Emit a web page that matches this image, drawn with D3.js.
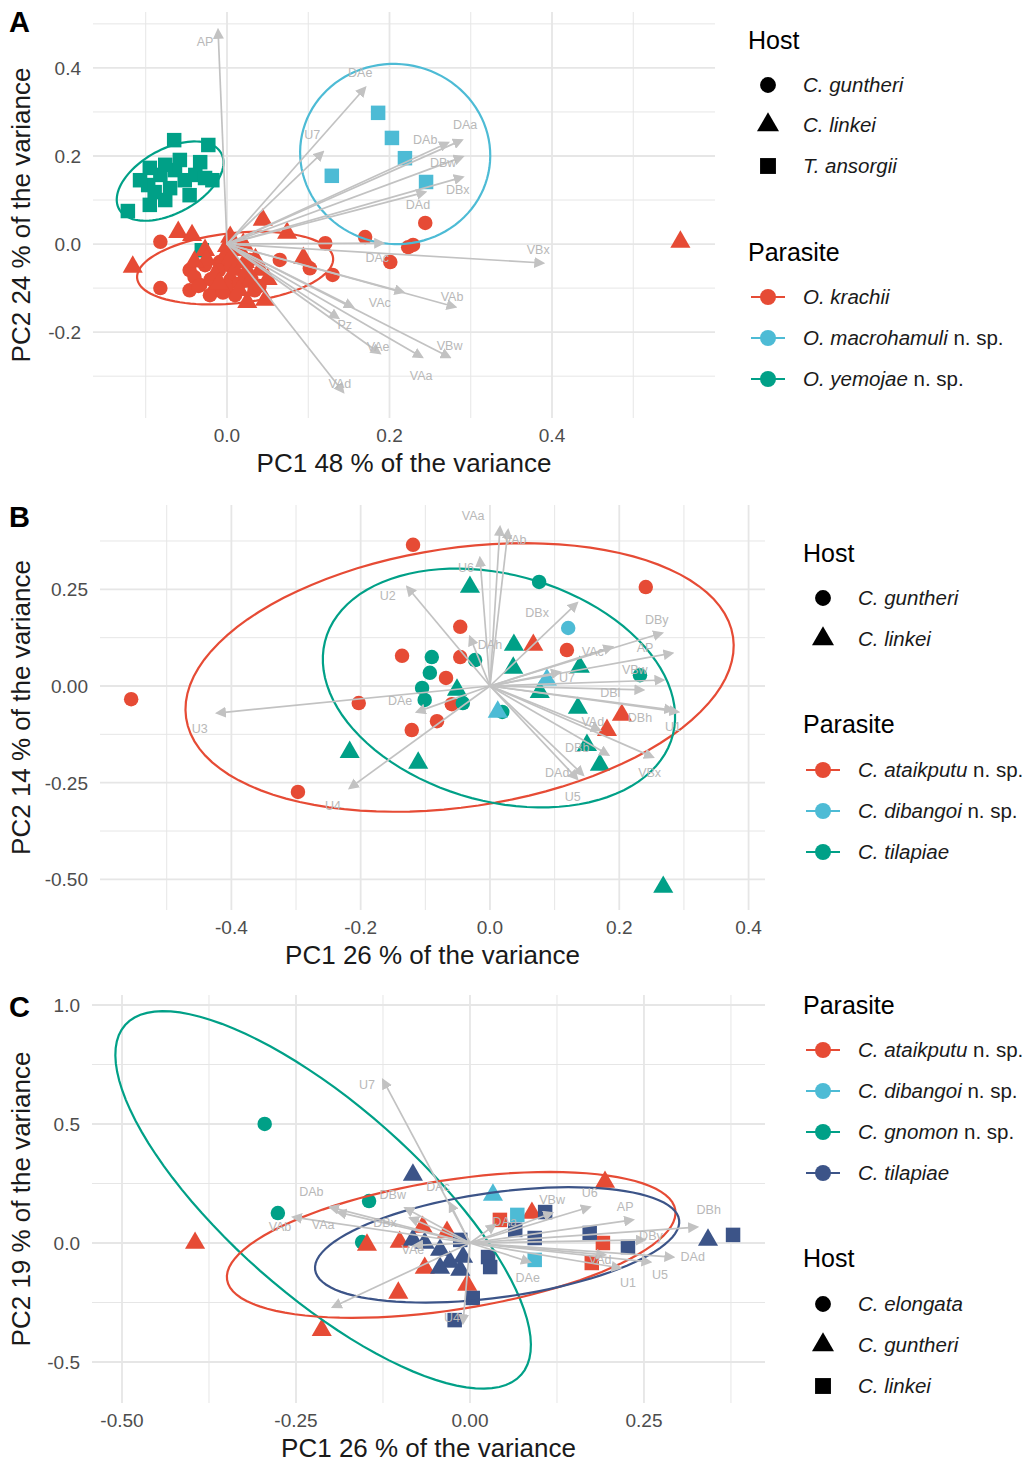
<!DOCTYPE html>
<html><head><meta charset="utf-8">
<script src="https://cdn.jsdelivr.net/npm/d3@7"></script>
<style>body{margin:0;background:#fff;} svg{display:block;font-family:"Liberation Sans",Arial,Helvetica,sans-serif;}</style>
</head><body><svg id="c" width="1026" height="1463"></svg>
<script>
const RED="#E64B35", LBLUE="#4DBBD5", TEAL="#00A087", DBLUE="#3C5488";

// ---------- Panel A ----------
const parasitesA = ["O. krachii","O. macrohamuli n. sp.","O. yemojae n. sp."];
const colorsA = [RED, LBLUE, TEAL];
const hostsA = ["C. guntheri","C. linkei","T. ansorgii"];
const shapesA = ["circle","triangle","square"];
const xTicksA = [0, 0.2, 0.4], xTickLabelsA = ["0.0","0.2","0.4"];
const yTicksA = [-0.2, 0, 0.2, 0.4], yTickLabelsA = ["-0.2","0.0","0.2","0.4"];
// [parasite, host, PC1, PC2]
const pointsA = [
 [2,2,-0.065,0.236],[2,2,-0.023,0.225],[2,2,-0.122,0.075],[2,2,-0.095,0.089],[2,2,-0.076,0.100],
 [2,2,-0.082,0.157],[2,2,-0.064,0.168],[2,2,-0.052,0.145],[2,2,-0.039,0.157],[2,2,-0.027,0.150],
 [2,2,-0.018,0.145],[2,2,-0.097,0.134],[2,2,-0.089,0.118],[2,2,-0.070,0.127],[2,2,-0.046,0.111],
 [2,2,-0.058,0.191],[2,2,-0.095,0.173],[2,2,-0.033,0.186],[2,2,-0.076,0.180],[2,2,-0.107,0.145],
 [2,2,-0.031,-0.014],
 [1,2,0.186,0.298],[1,2,0.203,0.241],[1,2,0.219,0.195],[1,2,0.129,0.155],[1,2,0.245,0.141],
 [0,0,-0.082,0.005],[0,0,-0.082,-0.100],[0,0,0.121,0.002],[0,0,0.170,0.016],[0,0,0.201,-0.041],
 [0,0,0.223,-0.007],[0,0,0.229,-0.002],[0,0,0.244,0.048],[0,0,0.065,-0.036],[0,0,0.102,-0.055],
 [0,0,0.130,-0.070],[0,0,-0.046,-0.059],[0,0,-0.033,-0.093],[0,0,-0.015,-0.105],[0,0,0.004,-0.082],
 [0,0,0.022,-0.070],[0,0,0.034,-0.105],[0,0,-0.027,-0.048],[0,0,-0.009,-0.041],[0,0,0.010,-0.116],
 [0,0,0.028,-0.036],[0,0,-0.046,-0.105],[0,0,-0.021,-0.116],
 [0,0,-0.040,-0.075],[0,0,-0.020,-0.080],[0,0,0.000,-0.095],[0,0,0.015,-0.090],[0,0,-0.010,-0.060],
 [0,0,0.030,-0.080],[0,0,-0.035,-0.095],[0,0,0.005,-0.050],[0,0,0.040,-0.095],[0,0,-0.005,-0.110],
 [0,1,-0.116,-0.052],[0,1,-0.060,0.027],[0,1,-0.043,0.020],[0,1,0.044,0.055],[0,1,0.074,0.025],
 [0,1,0.094,-0.032],[0,1,0.025,-0.132],[0,1,0.047,-0.127],[0,1,0.004,0.016],[0,1,-0.002,-0.025],
 [0,1,0.016,-0.014],[0,1,-0.015,-0.070],[0,1,0.028,-0.086],[0,1,0.558,0.005],[0,1,0.010,-0.059],
 [0,1,0.041,-0.059],[0,1,-0.027,-0.014],[0,1,0.022,-0.041],
 [0,1,-0.025,-0.035],[0,1,0.005,-0.030],[0,1,0.025,-0.060],[0,1,-0.010,-0.090],[0,1,0.035,-0.035],
 [0,1,0.015,-0.105],[0,1,-0.040,-0.040],[0,1,0.050,-0.080],[0,1,0.000,-0.005],[0,1,0.020,0.000]
];
// [parasite, centre x, centre y, axis1 x, axis1 y, axis2 x, axis2 y]
const ellipsesA = [
 [2,-0.070,0.143,0.064,0.059,-0.0148,0.068],
 [1,0.207,0.2045,0.111,-0.068,-0.037,-0.193],
 [0,0.010,-0.0545,0.1206,0.0227,0.0037,-0.0795]
];
// [variable, tip x, tip y, label x, label y]
const arrowsA = [
 ["AP",-0.011,0.486,-0.027,0.459],["DAe",0.170,0.355,0.164,0.389],["U7",0.118,0.209,0.105,0.248],
 ["DAa",0.289,0.236,0.293,0.270],["DAb",0.272,0.230,0.244,0.236],["DBw",0.290,0.198,0.266,0.184],
 ["DBx",0.290,0.152,0.284,0.123],["DAd",0.244,0.118,0.235,0.089],["DAc",0.192,0.002,0.185,-0.032],
 ["VBx",0.389,-0.043,0.383,-0.014],["VAb",0.281,-0.143,0.277,-0.120],["VAc",0.155,-0.143,0.188,-0.134],
 ["Pz",0.137,-0.168,0.145,-0.184],["VAe",0.188,-0.248,0.186,-0.234],["VBw",0.274,-0.257,0.274,-0.232],
 ["VAa",0.240,-0.257,0.239,-0.300],["VAd",0.143,-0.336,0.139,-0.318],["",0.217,-0.109,0.217,-0.109]
];

// ---------- Panel B ----------
const parasitesB = ["C. ataikputu n. sp.","C. dibangoi n. sp.","C. tilapiae"];
const colorsB = [RED, LBLUE, TEAL];
const hostsB = ["C. guntheri","C. linkei"];
const shapesB = ["circle","triangle"];
const xTicksB = [-0.4,-0.2,0,0.2,0.4], xTickLabelsB = ["-0.4","-0.2","0.0","0.2","0.4"];
const yTicksB = [-0.5,-0.25,0,0.25], yTickLabelsB = ["-0.50","-0.25","0.00","0.25"];
const pointsB = [
 [0,0,-0.119,0.365],[0,0,-0.136,0.078],[0,0,-0.046,0.153],[0,0,-0.046,0.075],[0,0,-0.068,0.021],
 [0,0,-0.203,-0.044],[0,0,-0.082,-0.091],[0,0,-0.121,-0.114],[0,0,-0.297,-0.274],[0,0,-0.059,-0.047],
 [0,0,0.241,0.256],[0,0,0.119,0.093],[0,0,-0.555,-0.034],
 [0,1,0.067,0.106],[0,1,0.204,-0.075],[0,1,0.181,-0.114],
 [2,0,-0.090,0.075],[2,0,-0.093,0.034],[2,0,-0.105,-0.005],[2,0,-0.101,-0.036],[2,0,-0.042,-0.044],
 [2,0,0.076,0.269],[2,0,-0.023,0.067],[2,0,0.232,0.028],[2,0,0.019,-0.067],
 [2,1,-0.031,0.256],[2,1,-0.217,-0.171],[2,1,-0.111,-0.199],[2,1,-0.051,-0.010],[2,1,0.037,0.106],
 [2,1,0.139,0.049],[2,1,0.036,0.047],[2,1,0.077,-0.016],[2,1,0.136,-0.057],[2,1,0.150,-0.153],
 [2,1,0.170,-0.204],[2,1,0.268,-0.520],
 [1,0,0.121,0.150],[1,1,0.088,0.016],[1,1,0.012,-0.067]
];
const ellipsesB = [
 [0,-0.047,0.022,0.423,0.105,-0.029,0.331],
 [2,0.0139,-0.0052,0.269,-0.0259,-0.0433,0.3077]
];
const arrowsB = [
 ["VAa",0.0155,0.411,-0.026,0.440],["VAb",0.028,0.403,0.039,0.378],["U6",-0.0155,0.331,-0.037,0.305],
 ["U2",-0.128,0.256,-0.158,0.233],["DBx",0.1346,0.2146,0.073,0.189],["DBy",0.266,0.137,0.258,0.171],
 ["AP",0.282,0.085,0.240,0.098],["VBw",0.268,0.0155,0.224,0.041],["DBl",0.237,-0.010,0.186,-0.018],
 ["DBh",0.283,-0.062,0.232,-0.083],["VAd",0.170,-0.114,0.159,-0.093],["DBb",0.183,-0.178,0.135,-0.160],
 ["VBx",0.252,-0.184,0.247,-0.225],["DAd",0.144,-0.230,0.104,-0.225],["U5",0.135,-0.240,0.128,-0.287],
 ["DAe",-0.113,-0.067,-0.139,-0.039],["U3",-0.422,-0.070,-0.449,-0.111],["U4",-0.217,-0.264,-0.243,-0.310],
 ["VAc",0.189,0.101,0.159,0.088],["U7",0.108,0.036,0.119,0.021],["U1",0.291,-0.067,0.283,-0.106],
 ["DAh",-0.031,0.127,0.000,0.105]
];

// ---------- Panel C ----------
const parasitesC = ["C. ataikputu n. sp.","C. dibangoi n. sp.","C. gnomon n. sp.","C. tilapiae"];
const colorsC = [RED, LBLUE, TEAL, DBLUE];
const hostsC = ["C. elongata","C. guntheri","C. linkei"];
const shapesC = ["circle","triangle","square"];
const xTicksC = [-0.5,-0.25,0,0.25], xTickLabelsC = ["-0.50","-0.25","0.00","0.25"];
const yTicksC = [-0.5,0,0.5,1.0], yTickLabelsC = ["-0.5","0.0","0.5","1.0"];
const pointsC = [
 [2,0,-0.295,0.500],[2,0,-0.276,0.126],[2,0,-0.145,0.176],[2,0,-0.155,0.004],
 [0,1,-0.395,0.000],[0,1,-0.213,-0.366],[0,1,-0.148,-0.008],[0,1,-0.101,0.004],[0,1,-0.068,0.067],
 [0,1,-0.065,-0.105],[0,1,-0.004,-0.176],[0,1,-0.103,-0.210],[0,1,0.194,0.256],[0,1,0.089,0.126],
 [0,1,-0.033,0.046],
 [0,2,0.043,0.097],[0,2,0.191,0.000],[0,2,0.175,-0.084],
 [1,1,0.033,0.202],[1,2,0.068,0.118],[1,2,0.093,-0.071],
 [3,1,-0.082,0.286],[3,1,-0.082,0.013],[3,1,-0.043,-0.029],[3,1,-0.043,-0.105],[3,1,-0.014,-0.113],
 [3,1,-0.010,-0.059],[3,1,0.342,0.013],[3,1,-0.065,0.000],[3,1,-0.029,-0.080],
 [3,2,0.108,0.130],[3,2,0.093,0.021],[3,2,0.026,-0.059],[3,2,0.029,-0.101],[3,2,0.004,-0.231],
 [3,2,-0.022,-0.324],[3,2,0.172,0.042],[3,2,0.227,-0.017],[3,2,0.378,0.034],[3,2,-0.014,0.013],
 [3,2,0.065,0.055]
];
const ellipsesC = [
 [2,-0.211,0.181,0.2845,-0.735,0.0905,0.298],
 [0,-0.027,-0.008,0.322,0.147,-0.0144,0.269],
 [3,0.039,-0.008,0.2615,0.105,-0.010,0.2185]
];
const arrowsC = [
 ["U7",-0.125,0.685,-0.148,0.664],["DAb",-0.201,0.151,-0.228,0.214],["VAb",-0.254,0.109,-0.273,0.067],
 ["VAa",-0.190,0.130,-0.211,0.076],["DBw",-0.093,0.147,-0.111,0.202],["DAc",-0.029,0.168,-0.046,0.235],
 ["DBx",-0.086,0.105,-0.122,0.084],["VAe",-0.080,-0.010,-0.082,-0.029],["",-0.197,-0.269,-0.197,-0.269],
 ["U4",-0.010,-0.336,-0.026,-0.315],["DAd",0.292,-0.059,0.320,-0.059],["U5",0.259,-0.080,0.273,-0.134],
 ["U1",0.216,-0.105,0.227,-0.168],["DBh",0.326,0.067,0.343,0.139],["AP",0.234,0.097,0.223,0.151],
 ["U6",0.172,0.151,0.172,0.210],["VBw",0.118,0.126,0.118,0.181],["DAe",0.086,-0.080,0.083,-0.147],
 ["VAd",0.194,-0.050,0.187,-0.071],["DAa",0.036,0.076,0.050,0.088],["DBy",0.251,0.013,0.260,0.030]
];

// ---------- layout ----------
const panels = [
 {letter:"A", rect:{l:93,r:715,t:12,b:418}, xdom:[-0.1649,0.6006], ydom:[-0.395,0.527],
  xt:xTicksA, xl:xTickLabelsA, yt:yTicksA, yl:yTickLabelsA, xstep:0.2, ystep:0.2,
  xtitle:"PC1 48 % of the variance", ytitle:"PC2 24 % of the variance",
  pts:pointsA, ell:ellipsesA, arr:arrowsA, cols:colorsA, shapes:shapesA,
  legend:{x:748, groups:[{title:"Host", ty:40, items:hostsA, ys:[85,125,166], kind:"shape", shapes:shapesA},
                        {title:"Parasite", ty:252, items:parasitesA, ys:[297,338,379], kind:"col", cols:colorsA}]}},
 {letter:"B", rect:{l:100,r:765,t:505,b:910}, xdom:[-0.6032,0.4254], ydom:[-0.5793,0.4681],
  xt:xTicksB, xl:xTickLabelsB, yt:yTicksB, yl:yTickLabelsB, xstep:0.2, ystep:0.25,
  xtitle:"PC1 26 % of the variance", ytitle:"PC2 14 % of the variance",
  pts:pointsB, ell:ellipsesB, arr:arrowsB, cols:colorsB, shapes:shapesB,
  legend:{x:803, groups:[{title:"Host", ty:553, items:hostsB, ys:[598,639], kind:"shape", shapes:shapesB},
                        {title:"Parasite", ty:724, items:parasitesB, ys:[770,811,852], kind:"col", cols:colorsB}]}},
 {letter:"C", rect:{l:92,r:765,t:995,b:1403}, xdom:[-0.5431,0.4239], ydom:[-0.6723,1.042],
  xt:xTicksC, xl:xTickLabelsC, yt:yTicksC, yl:yTickLabelsC, xstep:0.25, ystep:0.5,
  xtitle:"PC1 26 % of the variance", ytitle:"PC2 19 % of the variance",
  pts:pointsC, ell:ellipsesC, arr:arrowsC, cols:colorsC, shapes:shapesC,
  legend:{x:803, groups:[{title:"Parasite", ty:1005, items:parasitesC, ys:[1050,1091,1132,1173], kind:"col", cols:colorsC},
                        {title:"Host", ty:1258, items:hostsC, ys:[1304,1345,1386], kind:"shape", shapes:shapesC}]}}
];

const svg = d3.select("#c");
svg.append("rect").attr("width",1026).attr("height",1463).attr("fill","#fff");
const defs = svg.append("defs");
defs.append("marker").attr("id","ah").attr("viewBox","0 0 10 10").attr("refX",8).attr("refY",5)
  .attr("markerWidth",11).attr("markerHeight",11).attr("markerUnits","userSpaceOnUse").attr("orient","auto")
  .append("path").attr("d","M0,0L10,5L0,10Z").attr("fill","#c2c2c2");

const symType = {circle:d3.symbolCircle, triangle:d3.symbolTriangle, square:d3.symbolSquare};
const symSize = {circle:165, triangle:175, square:210};
const GRID="#e6e6e6";

function speciesText(sel, label){
  const i = label.indexOf(" n. sp.");
  if(i>=0){
    sel.append("tspan").attr("font-style","italic").text(label.slice(0,i));
    sel.append("tspan").text(label.slice(i));
  } else sel.append("tspan").attr("font-style","italic").text(label);
}

panels.forEach(p=>{
  const R=p.rect;
  const x=d3.scaleLinear().domain(p.xdom).range([R.l,R.r]);
  const y=d3.scaleLinear().domain(p.ydom).range([R.b,R.t]);
  const g=svg.append("g");
  // grid
  const minorX=[], minorY=[];
  for(let v=Math.ceil(p.xdom[0]/p.xstep-0.5)+0.5; v*p.xstep<=p.xdom[1]; v+=1) if(v*p.xstep>=p.xdom[0]) minorX.push(v*p.xstep);
  for(let v=Math.ceil(p.ydom[0]/p.ystep-0.5)+0.5; v*p.ystep<=p.ydom[1]; v+=1) if(v*p.ystep>=p.ydom[0]) minorY.push(v*p.ystep);
  g.selectAll(".mx").data(minorX).join("line").attr("x1",d=>x(d)).attr("x2",d=>x(d)).attr("y1",R.t).attr("y2",R.b).attr("stroke",GRID).attr("stroke-width",1);
  g.selectAll(".my").data(minorY).join("line").attr("y1",d=>y(d)).attr("y2",d=>y(d)).attr("x1",R.l).attr("x2",R.r).attr("stroke",GRID).attr("stroke-width",1);
  g.selectAll(".gx").data(p.xt).join("line").attr("x1",d=>x(d)).attr("x2",d=>x(d)).attr("y1",R.t).attr("y2",R.b).attr("stroke",GRID).attr("stroke-width",1.8);
  g.selectAll(".gy").data(p.yt).join("line").attr("y1",d=>y(d)).attr("y2",d=>y(d)).attr("x1",R.l).attr("x2",R.r).attr("stroke",GRID).attr("stroke-width",1.8);
  // tick labels
  g.selectAll(".xl").data(p.xt).join("text").attr("x",d=>x(d)).attr("y",R.b+24).attr("text-anchor","middle")
    .attr("font-size",19).attr("fill","#4d4d4d").text((d,i)=>p.xl[i]);
  g.selectAll(".yl").data(p.yt).join("text").attr("x",R.l-12).attr("y",d=>y(d)+7).attr("text-anchor","end")
    .attr("font-size",19).attr("fill","#4d4d4d").text((d,i)=>p.yl[i]);
  // titles
  g.append("text").attr("x",(R.l+R.r)/2).attr("y",R.b+54).attr("text-anchor","middle").attr("font-size",26).attr("fill","#1a1a1a").text(p.xtitle);
  g.append("text").attr("transform",`translate(30,${(R.t+R.b)/2}) rotate(-90)`).attr("text-anchor","middle").attr("font-size",26).attr("fill","#1a1a1a").text(p.ytitle);
  g.append("text").attr("x",9).attr("y",R.t+ (p.letter==="A"?20:22)).attr("font-size",29).attr("font-weight","bold").attr("fill","#000").text(p.letter);
  // points
  g.selectAll(".pt").data(p.pts).join("path")
    .attr("transform",d=>`translate(${x(d[2])},${y(d[3])})`)
    .attr("d",d=>d3.symbol(symType[p.shapes[d[1]]], symSize[p.shapes[d[1]]])())
    .attr("fill",d=>p.cols[d[0]]);
  // ellipses
  const ts=d3.range(0,101).map(i=>i/100*2*Math.PI);
  const line=d3.line().x(q=>x(q[0])).y(q=>y(q[1])).curve(d3.curveLinearClosed);
  g.selectAll(".el").data(p.ell).join("path")
    .attr("d",e=>line(ts.map(t=>[e[1]+e[3]*Math.cos(t)+e[5]*Math.sin(t), e[2]+e[4]*Math.cos(t)+e[6]*Math.sin(t)])))
    .attr("fill","none").attr("stroke",e=>p.cols[e[0]]).attr("stroke-width",2.2);
  // arrows
  g.selectAll(".ar").data(p.arr).join("line")
    .attr("x1",x(0)).attr("y1",y(0)).attr("x2",d=>x(d[1])).attr("y2",d=>y(d[2]))
    .attr("stroke","#c2c2c2").attr("stroke-width",1.7).attr("marker-end","url(#ah)");
  g.selectAll(".al").data(p.arr).join("text")
    .attr("x",d=>x(d[3])).attr("y",d=>y(d[4])+4).attr("text-anchor","middle")
    .attr("font-size",12.5).attr("fill","#b8b8b8").text(d=>d[0]);
  // legend
  const L=p.legend;
  L.groups.forEach(gr=>{
    g.append("text").attr("x",L.x).attr("y",gr.ty+9).attr("font-size",25).attr("fill","#000").text(gr.title);
    gr.items.forEach((it,i)=>{
      const cy=gr.ys[i], sx=L.x+20;
      if(gr.kind==="shape"){
        const s=gr.shapes[i];
        g.append("path").attr("transform",`translate(${sx},${cy})`).attr("d",d3.symbol(symType[s],symSize[s]*1.2)()).attr("fill","#000");
      } else {
        g.append("line").attr("x1",sx-17).attr("x2",sx+17).attr("y1",cy).attr("y2",cy).attr("stroke",gr.cols[i]).attr("stroke-width",2);
        g.append("circle").attr("cx",sx).attr("cy",cy).attr("r",8).attr("fill",gr.cols[i]);
      }
      const t=g.append("text").attr("x",L.x+55).attr("y",cy+7).attr("font-size",20.5).attr("fill","#1a1a1a");
      speciesText(t,it);
    });
  });
});
</script></body></html>
